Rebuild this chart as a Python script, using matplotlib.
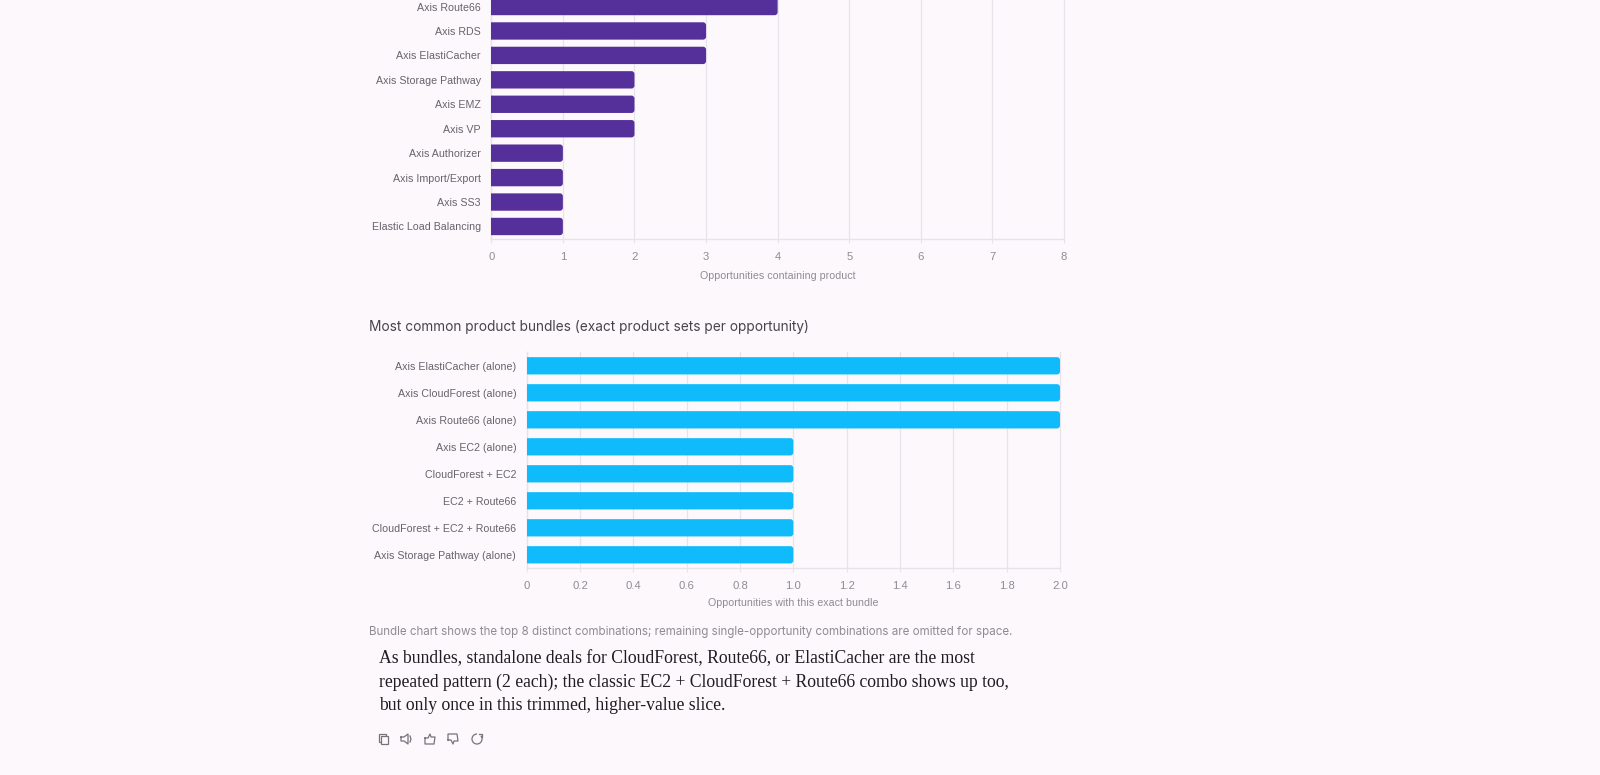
import matplotlib
matplotlib.use("Agg")
import matplotlib.pyplot as plt
from matplotlib.patches import FancyBboxPatch, Rectangle, Arc

W, H = 1600, 775
BG = "#FCF8FC"
GRID = "#E8E3EA"
LABEL = "#68636B"
TICK = "#8F8B93"

# top chart
products = ["Axis Route66", "Axis RDS", "Axis ElastiCacher", "Axis Storage Pathway", "Axis EMZ",
            "Axis VP", "Axis Authorizer", "Axis Import/Export", "Axis SS3", "Elastic Load Balancing"]
product_counts = [4, 3, 3, 2, 2, 2, 1, 1, 1, 1]
product_ticks = [0, 1, 2, 3, 4, 5, 6, 7, 8]

# bottom chart
bundles = ["Axis ElastiCacher (alone)", "Axis CloudForest (alone)", "Axis Route66 (alone)", "Axis EC2 (alone)",
           "CloudForest + EC2", "EC2 + Route66", "CloudForest + EC2 + Route66", "Axis Storage Pathway (alone)"]
bundle_counts = [2, 2, 2, 1, 1, 1, 1, 1]
bundle_ticks = [0, 0.2, 0.4, 0.6, 0.8, 1.0, 1.2, 1.4, 1.6, 1.8, 2.0]
bundle_ticklabels = ["0", "0.2", "0.4", "0.6", "0.8", "1.0", "1.2", "1.4", "1.6", "1.8", "2.0"]

title2 = "Most common product bundles (exact product sets per opportunity)"
note = "Bundle chart shows the top 8 distinct combinations; remaining single-opportunity combinations are omitted for space."
body = ["As bundles, standalone deals for CloudForest, Route66, or ElastiCacher are the most",
        "repeated pattern (2 each); the classic EC2 + CloudForest + Route66 combo shows up too,",
        "but only once in this trimmed, higher-value slice."]

plt.rcParams["font.family"] = ["Liberation Sans", "DejaVu Sans"]
fig = plt.figure(figsize=(W / 100, H / 100), dpi=100, facecolor=BG)


def px_axes(left, top, right, bottom):
    return fig.add_axes([left / W, 1 - bottom / H, (right - left) / W, (bottom - top) / H])


def draw_bars(ax, names, values, color, bar_h, x_px, y_px):
    # left end runs past the axis so only the right corners look rounded
    pad = 8 / x_px
    for i, v in enumerate(values):
        box = FancyBboxPatch((-pad, i - bar_h / 2), v + pad, bar_h,
                             boxstyle="round,pad=0,rounding_size=%f" % (3 / x_px),
                             mutation_aspect=x_px / y_px, fc=color, ec="none", zorder=3)
        ax.add_patch(box)
    ax.set_yticks(range(len(names)))
    ax.set_yticklabels(names)


def style(ax, ticks, ticklabels, xlabel, tick_pad, xlabel_pad):
    ax.set_facecolor("none")
    ax.set_xticks(ticks)
    ax.set_xticklabels(ticklabels)
    ax.grid(axis="x", color=GRID, lw=0.9, zorder=0)
    for g in ax.get_xgridlines():
        g.set_clip_on(False)
    ax.set_axisbelow(True)
    for s in ["top", "right"]:
        ax.spines[s].set_visible(False)
    for s in ["left", "bottom"]:
        ax.spines[s].set_color(GRID)
        ax.spines[s].set_linewidth(1)
    ax.tick_params(axis="y", length=0, pad=7.6, labelsize=7.68, labelcolor=LABEL)
    ax.tick_params(axis="x", length=3, width=0.8, color=GRID, pad=tick_pad, labelsize=8.1, labelcolor=TICK)
    ax.set_xlabel(xlabel, fontsize=7.7, color=TICK, labelpad=xlabel_pad)


# top chart, cut off by the top of the picture
ax1 = px_axes(491.3, 0, 1064, 238.7)
ax1.set_xlim(0, 8)
ax1.set_ylim(9.5, 9.5 - 238.7 / 24.44)
draw_bars(ax1, products, product_counts, "#55309A", 0.71, 71.6, 24.44)
style(ax1, product_ticks, [str(t) for t in product_ticks], "Opportunities containing product", 6.5, 6.3)

# bottom chart
ax2 = px_axes(526.7, 352.3, 1060, 568.3)
ax2.set_xlim(0, 2)
ax2.set_ylim(7.5, -0.5)
draw_bars(ax2, bundles, bundle_counts, "#10BBFC", 0.64, 266.6, 27)
style(ax2, bundle_ticks, bundle_ticklabels, "Opportunities with this exact bundle", 5.8, 5.6)

# text around the charts
fig.text(369.4 / W, 1 - 326.5 / H, title2, family="Inter", fontsize=9.85, color="#48444D", va="center")
fig.text(369.4 / W, 1 - 631.5 / H, note, family="Inter", fontsize=8.33, color="#8F8B93", va="center")
for line, y in zip(body, [658.5, 682, 705.5]):
    fig.text(378.6 / W, 1 - y / H, line, family="Liberation Serif", fontsize=12.7, color="#1F1C22", va="center")

# action icons under the answer, in pixel coords
ic = fig.add_axes([0, 0, 1, 1], facecolor="none")
ic.set_xlim(0, W)
ic.set_ylim(H + 1, 1)
ic.axis("off")
col = "#77737B"
lw = 0.9
# copy
ic.add_patch(Rectangle((379, 735), 7, 8, fc="none", ec=col, lw=lw))
ic.add_patch(Rectangle((381, 737), 7, 8, fc=BG, ec=col, lw=lw))
# speaker
ic.plot([401, 404, 408, 408, 404, 401, 401], [738, 738, 735, 745, 742, 742, 738], color=col, lw=lw)
ic.plot([410, 411, 410], [737, 740, 743], color=col, lw=lw)
# thumbs
ic.plot([425, 428, 430, 431, 435, 434, 425, 425], [739, 739, 735, 738, 738, 745, 745, 739], color=col, lw=lw)
ic.plot([448, 451, 453, 454, 458, 457, 448, 448], [741, 741, 745, 742, 742, 735, 735, 741], color=col, lw=lw)
# retry
ic.add_patch(Arc((477, 740), 10, 10, theta1=-40, theta2=270, color=col, lw=lw))
ic.plot([479, 482, 482], [735, 735, 738], color=col, lw=lw)

fig.savefig("out.png", dpi=100, facecolor=BG)
